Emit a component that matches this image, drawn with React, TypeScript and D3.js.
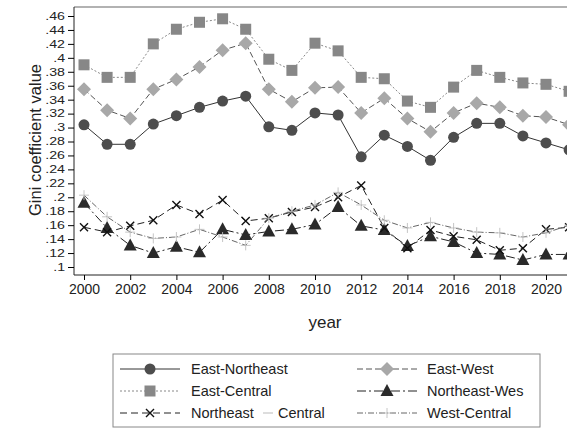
import { useRef, useEffect } from "react";
import * as d3 from "d3";

// years on the x axis
const years = d3.range(2000, 2022);

// Gini values, one array per pair of regions
const eastNortheast = [0.304, 0.276, 0.276, 0.305, 0.317, 0.329, 0.338, 0.345, 0.301, 0.296, 0.321, 0.318, 0.258, 0.289, 0.273, 0.253, 0.286, 0.306, 0.306, 0.288, 0.278, 0.268];
const eastWest = [0.355, 0.325, 0.313, 0.355, 0.369, 0.387, 0.411, 0.421, 0.355, 0.337, 0.357, 0.358, 0.321, 0.342, 0.313, 0.294, 0.321, 0.335, 0.329, 0.317, 0.315, 0.304];
const eastCentral = [0.39, 0.372, 0.372, 0.42, 0.441, 0.451, 0.456, 0.441, 0.398, 0.382, 0.421, 0.41, 0.372, 0.37, 0.338, 0.329, 0.358, 0.382, 0.372, 0.364, 0.362, 0.352];
const northeastWest = [0.192, 0.156, 0.131, 0.12, 0.129, 0.121, 0.154, 0.146, 0.151, 0.154, 0.161, 0.186, 0.159, 0.153, 0.13, 0.144, 0.136, 0.12, 0.118, 0.11, 0.118, 0.118];
const northeastCentral = [0.157, 0.15, 0.159, 0.167, 0.189, 0.176, 0.196, 0.166, 0.17, 0.179, 0.186, 0.2, 0.217, 0.156, 0.127, 0.153, 0.144, 0.139, 0.124, 0.127, 0.154, 0.157];
const westCentral = [0.203, 0.172, 0.15, 0.141, 0.143, 0.154, 0.143, 0.131, 0.17, 0.18, 0.189, 0.207, 0.189, 0.167, 0.156, 0.164, 0.156, 0.15, 0.149, 0.143, 0.149, 0.16];

const yTicks = d3.range(0.1, 0.4601, 0.02);
const xTicks = d3.range(2000, 2021, 2);

const App = () => {
  const ref = useRef<SVGSVGElement>(null);

  useEffect(() => {
    const svg = d3.select(ref.current);
    svg.selectAll("*").remove();
    const font = "Liberation Sans, Arial, sans-serif";

    const x = d3.scaleLinear().domain([2000, 2020]).range([84, 546]);
    const y = d3.scaleLinear().domain([0.1, 0.46]).range([267, 16]);

    const series = [
      { name: "East-Northeast", values: eastNortheast, color: "#4d4d4d", line: "#333", dash: "", marker: "circle" },
      { name: "East-West", values: eastWest, color: "#a8a8a8", line: "#555", dash: "6,3", marker: "diamond" },
      { name: "East-Central", values: eastCentral, color: "#878787", line: "#888", dash: "2,2", marker: "square" },
      { name: "Northeast-Wes", values: northeastWest, color: "#2a2a2a", line: "#222", dash: "9,3,2,3", marker: "triangle" },
      { name: "Northeast-Central", values: northeastCentral, color: "#111", line: "#222", dash: "7,4", marker: "x" },
      { name: "West-Central", values: westCentral, color: "#c0c0c0", line: "#666", dash: "6,2,1,2", marker: "plus" },
    ];

    // plot region border (top) and axes
    svg.append("line").attr("x1", 74).attr("x2", 567).attr("y1", 7).attr("y2", 7)
      .attr("stroke", "#999").attr("stroke-width", 1.5);

    // y labels look stretched sideways in the picture
    const sx = 1.35;
    const yAxis = svg.append("g").attr("transform", "translate(74,0)")
      .call(d3.axisLeft(y).tickValues(yTicks).tickSize(6).tickPadding(2)
        .tickFormat((d) => d3.format(".2~f")(+d).replace(/^0/, "")));
    yAxis.select(".domain").attr("d", "M0,7V275").attr("stroke", "#222");
    yAxis.selectAll("text").attr("font-family", font).attr("font-size", 10.5).attr("fill", "#222")
      .attr("x", -9 / sx).attr("transform", `scale(${sx},1)`);

    const xAxis = svg.append("g").attr("transform", "translate(0,275)")
      .call(d3.axisBottom(x).tickValues(xTicks).tickSize(5).tickPadding(4).tickFormat(d3.format("d")));
    xAxis.select(".domain").attr("d", "M74,0H567").attr("stroke", "#222");
    xAxis.selectAll("text").attr("font-family", font).attr("font-size", 14).attr("fill", "#222");

    svg.append("text").attr("x", 325).attr("y", 328).attr("text-anchor", "middle")
      .attr("font-family", font).attr("font-size", 17).attr("fill", "#222").text("year");
    svg.append("text").attr("transform", "translate(41,140) rotate(-90)").attr("text-anchor", "middle")
      .attr("font-family", font).attr("font-size", 16.5).attr("fill", "#222").text("Gini coefficient value");

    const drawMarker = (g: any, kind: string, cx: number, cy: number, color: string) => {
      if (kind === "circle") g.append("circle").attr("cx", cx).attr("cy", cy).attr("r", 5.5).attr("fill", color);
      if (kind === "square") g.append("rect").attr("x", cx - 5.5).attr("y", cy - 5.5).attr("width", 11).attr("height", 11).attr("fill", color);
      if (kind === "diamond") g.append("path").attr("d", `M${cx},${cy - 7}L${cx + 7},${cy}L${cx},${cy + 7}L${cx - 7},${cy}Z`).attr("fill", color);
      if (kind === "triangle") g.append("path").attr("d", `M${cx},${cy - 7}L${cx + 6.5},${cy + 5}L${cx - 6.5},${cy + 5}Z`).attr("fill", color);
      if (kind === "x") g.append("path").attr("d", `M${cx - 4},${cy - 4}L${cx + 4},${cy + 4}M${cx - 4},${cy + 4}L${cx + 4},${cy - 4}`)
        .attr("stroke", color).attr("stroke-width", 1.4);
      if (kind === "plus") g.append("path").attr("d", `M${cx - 5},${cy}H${cx + 5}M${cx},${cy - 5}V${cy + 5}`)
        .attr("stroke", color).attr("stroke-width", 0.9);
    };

    const line = d3.line<number>().x((_, i) => x(years[i])).y((d) => y(d));
    const plot = svg.append("g");
    series.forEach((s) => {
      plot.append("path").attr("d", line(s.values)).attr("fill", "none")
        .attr("stroke", s.line).attr("stroke-width", 1).attr("stroke-dasharray", s.dash || null);
      const mg = plot.append("g");
      s.values.forEach((v, i) => drawMarker(mg, s.marker, x(years[i]), y(v), s.color));
    });

    // legend
    const leg = svg.append("g");
    leg.append("rect").attr("x", 113).attr("y", 354).attr("width", 427).attr("height", 73)
      .attr("fill", "white").attr("stroke", "#888").attr("stroke-width", 1);
    series.forEach((s, i) => {
      const col = i % 2;
      const row = Math.floor(i / 2);
      const x0 = col === 0 ? 120 : 357;
      const cy = 369 + row * 22;
      leg.append("line").attr("x1", x0).attr("x2", x0 + 60).attr("y1", cy).attr("y2", cy)
        .attr("stroke", s.line).attr("stroke-width", 1).attr("stroke-dasharray", s.dash || null);
      drawMarker(leg, s.marker, x0 + 30, cy, s.color);
      const tx = col === 0 ? 191 : 427;
      const txt = (str: string, at: number) => leg.append("text").attr("x", at).attr("y", cy + 5)
        .attr("font-family", font).attr("font-size", 14.5).attr("fill", "#222").text(str);
      if (s.name === "Northeast-Central") {
        txt("Northeast", tx);
        leg.append("line").attr("x1", tx + 72).attr("x2", tx + 82).attr("y1", cy).attr("y2", cy)
          .attr("stroke", "#bbb").attr("stroke-width", 1);
        txt("Central", tx + 87);
      } else {
        txt(s.name, tx);
      }
    });
  }, []);

  return (
    <svg ref={ref} width={567} height={428} style={{ position: "absolute", left: 0, top: 0, background: "white" }} />
  );
};

export default App;
